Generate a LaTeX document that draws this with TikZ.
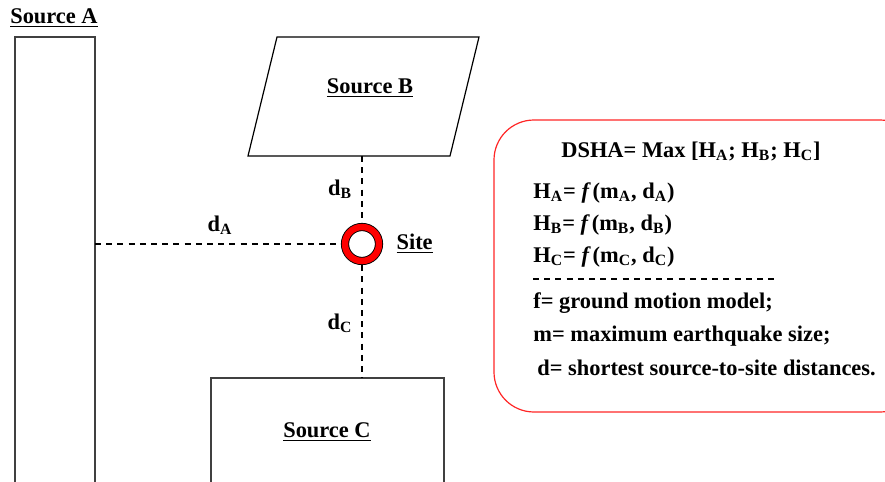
\documentclass[tikz,border=0pt]{standalone}
\usepackage{fontspec}
\setmainfont{Liberation Serif}
\usepackage{tikz}
\usetikzlibrary{positioning, calc}

\tikzset{
  srcbox/.style={draw=black!75, line width=0.6pt, rectangle, anchor=north west, inner sep=0pt, outer sep=0pt},
  dist/.style={draw=black, line width=0.75pt, dash pattern=on 3pt off 2.6pt},
  lbl/.style={font=\fontsize{11.2}{13}\selectfont\bfseries, inner sep=1pt},
  eqline/.style={lbl, anchor=west}
}

\begin{document}
\begin{tikzpicture}[x=0.5pt, y=-0.5pt]
  \clip (0,0) rectangle (885,482);

  % Sources
  \node[srcbox, minimum width=40pt, minimum height=260pt] (srcA) at (15,37) {};
  \node[lbl] (labA) at (54,18) {\underline{Source A}};

  \draw[black, line width=0.6pt] (248,156) -- (277,37) -- (479,37) -- (450,156) -- cycle;
  \coordinate (srcB) at (362,156);
  \node[lbl] (labB) at (370,88) {\underline{Source B}};

  \node[srcbox, minimum width=116.5pt, minimum height=80pt] (srcC) at (211,378) {};
  \node[lbl] (labC) at (327,432) {\underline{Source C}};

  % Site
  \node[circle, draw=black, line width=0.45pt, double=red, double distance=3.2pt,
        minimum size=17pt, outer sep=2.1pt, inner sep=0pt] (site) at (362,244) {};
  \node[lbl, right=5.5pt of site] (labS) {\underline{Site}};

  % Distances
  \draw[dist] (srcB) -- (site.north);
  \draw[dist] (site.west -| srcA.east) -- (site.west);
  \draw[dist] (site.south) -- (site.south |- srcC.north);
  \node[lbl] (dA) at (220,225) {d\textsubscript{A}};
  \node[lbl] (dB) at (340,189) {d\textsubscript{B}};
  \node[lbl] (dC) at (340,323) {d\textsubscript{C}};

  % Summary box
  \draw[red!85, line width=0.6pt, rounded corners=20pt] (494,120) rectangle (920,412);
  \node[lbl] (dsha) at (691,151) {DSHA= Max [H\textsubscript{A}; H\textsubscript{B}; H\textsubscript{C}]};
  \node[eqline] (hA) at (531,193) {H\textsubscript{A}= \textit{f\,}(m\textsubscript{A}, d\textsubscript{A})};
  \node[eqline] (hB) at (531,225) {H\textsubscript{B}= \textit{f\,}(m\textsubscript{B}, d\textsubscript{B})};
  \node[eqline] (hC) at (531,257) {H\textsubscript{C}= \textit{f\,}(m\textsubscript{C}, d\textsubscript{C})};
  \draw[dist] (533,279) -- (778,279);
  \node[eqline] (fdef) at (531,303) {f= ground motion model;};
  \node[eqline] (mdef) at (531,336) {m= maximum earthquake size;};
  \node[eqline] (ddef) at (535,368) {d= shortest source-to-site distances.};
\end{tikzpicture}
\end{document}
